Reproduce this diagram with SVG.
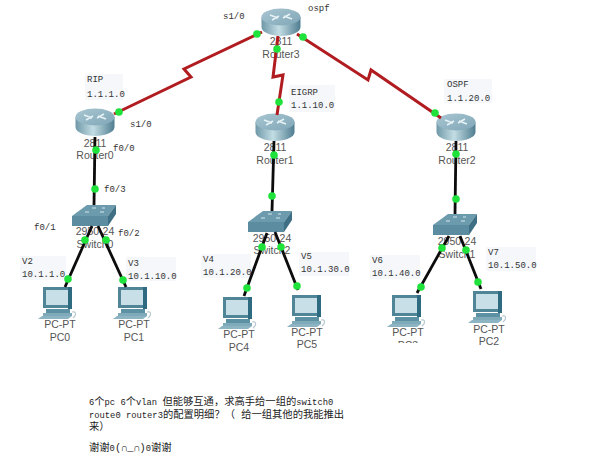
<svg xmlns="http://www.w3.org/2000/svg" width="600" height="468" viewBox="0 0 600 468">
<style>
.pt{font-family:"Liberation Sans",Arial,sans-serif;font-size:10.5px;fill:#555;text-anchor:middle}
.an{font-family:"Liberation Mono","Courier New",monospace;font-size:9px;fill:#333}
.box{fill:#f5f7fb}
.ser{fill:none;stroke:#b01c20;stroke-width:3}
.eth{fill:none;stroke:#0c0c0c;stroke-width:2.8}
.dot{fill:#1fe23a}
.cn{font-family:"Liberation Mono","Noto Sans CJK SC",monospace;font-size:10.3px;fill:#222}
.lat{font-size:8.8px}
</style>
<defs>
<linearGradient id="rb" x1="0" x2="1" y1="0" y2="0"><stop offset="0" stop-color="#6f98a8"/><stop offset=".45" stop-color="#c3dde4"/><stop offset="1" stop-color="#4f7d90"/></linearGradient>
<linearGradient id="rt" x1="0" x2="1" y1="0" y2="1"><stop offset="0" stop-color="#a9c6d2"/><stop offset="1" stop-color="#7fa6b6"/></linearGradient>
<g id="router">
<path d="M-19.500 -5V5A19.500 9 0 0 0 19.500 5V-5Z" fill="url(#rb)"/>
<ellipse cx="0" cy="-5" rx="19.500" ry="8.500" fill="url(#rt)"/>
<path d="M-11 -7L-3 -4M11 -3L3 -6M-9 -2L-2 -6M9 -8L2 -4" stroke="#e6f2f5" stroke-width="1.500" fill="none"/>
</g>
<g id="switch">
<path d="M0 11L15 0H44L36 11Z" fill="#6b9bad"/>
<path d="M0 11H36V21H0Z" fill="#5c8ca0"/>
<path d="M36 11L44 0V9L36 21Z" fill="#3f6f84"/>
<path d="M13 7h4M20 3h4M28 7h4M30 3h3" stroke="#d6e8ee" stroke-width="1.200"/>
</g>
<g id="pc">
<path d="M5 0H34V21H5Z" fill="#4f8597"/>
<path d="M8 3H30V18H8Z" fill="#c9dfe8"/>
<path d="M30 0L34 0V22L30 22Z" fill="#2f6b80"/>
<path d="M8 22H32V26H8Z" fill="#5b91a3"/>
<path d="M5 26H34V29H5Z" fill="#7eaab9"/>
<path d="M4 29H34L30 32H0Z" fill="#8db4c2"/>
<path d="M34 25Q39 24 37 29L35 31" fill="none" stroke="#b8c8ce" stroke-width="1.200"/>
</g>
<clipPath id="c3"><rect x="380" y="320" width="60" height="23"/></clipPath>
</defs>
<rect width="600" height="468" fill="#fff"/>

<g id="label-boxes">
<rect class="box" x="85" y="74" width="38" height="26"/>
<rect class="box" x="289" y="85" width="46" height="27"/>
<rect class="box" x="444" y="79" width="48" height="24"/>
<rect class="box" x="20" y="256" width="46" height="24"/>
<rect class="box" x="126" y="257" width="50" height="24"/>
<rect class="box" x="201" y="254" width="50" height="24"/>
<rect class="box" x="299" y="252" width="50" height="24"/>
<rect class="box" x="370" y="255" width="50" height="24"/>
<rect class="box" x="486" y="247" width="50" height="24"/>
</g>

<g id="router3"><use href="#router" x="281" y="22"/><text class="pt" x="281" y="45">2811</text><text class="pt" x="281" y="58">Router3</text></g>
<g id="router0"><use href="#router" x="95" y="122"/><text class="pt" x="95" y="147">2811</text><text class="pt" x="95" y="159">Router0</text></g>
<g id="router1"><use href="#router" x="275" y="127"/><text class="pt" x="275" y="151">2811</text><text class="pt" x="275" y="164">Router1</text></g>
<g id="router2"><use href="#router" x="456" y="127"/><text class="pt" x="457" y="151">2811</text><text class="pt" x="457" y="164">Router2</text></g>
<g id="switch0"><use href="#switch" x="72" y="205"/><text class="pt" x="95" y="235">2950-24</text><text class="pt" x="95" y="248">Switch0</text></g>
<g id="switch2"><use href="#switch" x="248" y="211"/><text class="pt" x="272" y="242">2950-24</text><text class="pt" x="272" y="254">Switch2</text></g>
<g id="switch1"><use href="#switch" x="433" y="214"/><text class="pt" x="457" y="245">2950-24</text><text class="pt" x="457" y="258">Switch1</text></g>
<g id="pc0"><use href="#pc" x="38" y="287"/><text class="pt" x="60" y="328">PC-PT</text><text class="pt" x="60" y="341">PC0</text></g>
<g id="pc1"><use href="#pc" x="113" y="287"/><text class="pt" x="134" y="328">PC-PT</text><text class="pt" x="134" y="341">PC1</text></g>
<g id="pc4"><use href="#pc" x="218" y="297"/><text class="pt" x="239" y="338">PC-PT</text><text class="pt" x="239" y="351">PC4</text></g>
<g id="pc5"><use href="#pc" x="287" y="295"/><text class="pt" x="307" y="336">PC-PT</text><text class="pt" x="307" y="348">PC5</text></g>
<g id="pc3"><use href="#pc" x="387" y="295"/><text class="pt" x="408" y="336">PC-PT</text><text class="pt" x="408" y="349" clip-path="url(#c3)">PC3</text></g>
<g id="pc2"><use href="#pc" x="468" y="291"/><text class="pt" x="489" y="333">PC-PT</text><text class="pt" x="489" y="345">PC2</text></g>

<g id="connectors">
<path class="ser" d="M262 32L184 69L191 77L114 114"/>
<path class="ser" d="M278 36L273 77L283 75L277 115"/>
<path class="ser" d="M297 34L368 80L371 70L441 118"/>
<path class="eth" d="M95 137L94 205"/>
<path class="eth" d="M274 141L272 211"/>
<path class="eth" d="M456 141L455 214"/>
<path class="eth" d="M92 226L65 287"/>
<path class="eth" d="M98 226L126 287"/>
<path class="eth" d="M267 233L244 296"/>
<path class="eth" d="M275 232L298 290"/>
<path class="eth" d="M449 236L417 293"/>
<path class="eth" d="M460 236L481 289"/>
<g class="dot">
<circle cx="257" cy="34" r="3.800"/><circle cx="277" cy="49" r="3.800"/><circle cx="303" cy="37" r="3.800"/>
<circle cx="119" cy="112" r="3.800"/><circle cx="279" cy="102" r="3.800"/><circle cx="435" cy="113" r="3.800"/>
<circle cx="96" cy="150" r="3.800"/><circle cx="95" cy="189" r="3.800"/>
<circle cx="274" cy="155" r="3.800"/><circle cx="272" cy="196" r="3.800"/>
<circle cx="456" cy="154" r="3.800"/><circle cx="456" cy="199" r="3.800"/>
<circle cx="85" cy="240" r="3.800"/><circle cx="68" cy="279" r="3.800"/>
<circle cx="106" cy="240" r="3.800"/><circle cx="123" cy="280" r="3.800"/>
<circle cx="262" cy="247" r="3.800"/><circle cx="247" cy="288" r="3.800"/>
<circle cx="281" cy="247" r="3.800"/><circle cx="297" cy="286" r="3.800"/>
<circle cx="442" cy="248" r="3.800"/><circle cx="421" cy="287" r="3.800"/>
<circle cx="466" cy="250" r="3.800"/><circle cx="478" cy="282" r="3.800"/>
</g>
</g>

<g id="annotations">
<text class="an" x="223" y="19">s1/0</text>
<text class="an" x="308" y="11">ospf</text>
<text class="an" x="87" y="82">RIP</text>
<text class="an" x="87" y="97">1.1.1.0</text>
<text class="an" x="130" y="127">s1/0</text>
<text class="an" x="113" y="151">f0/0</text>
<text class="an" x="104" y="192">f0/3</text>
<text class="an" x="291" y="95">EIGRP</text>
<text class="an" x="291" y="108">1.1.10.0</text>
<text class="an" x="447" y="87">OSPF</text>
<text class="an" x="447" y="101">1.1.20.0</text>
<text class="an" x="34" y="230">f0/1</text>
<text class="an" x="118" y="236">f0/2</text>
<text class="an" x="22" y="264">V2</text>
<text class="an" x="22" y="277">10.1.1.0</text>
<text class="an" x="128" y="266">V3</text>
<text class="an" x="128" y="279">10.1.10.0</text>
<text class="an" x="203" y="262">V4</text>
<text class="an" x="203" y="275">10.1.20.0</text>
<text class="an" x="301" y="259">V5</text>
<text class="an" x="301" y="272">10.1.30.0</text>
<text class="an" x="372" y="263">V6</text>
<text class="an" x="372" y="276">10.1.40.0</text>
<text class="an" x="488" y="255">V7</text>
<text class="an" x="488" y="268">10.1.50.0</text>
<text class="cn" x="89" y="405"><tspan class="lat">6</tspan>个<tspan class="lat">pc 6</tspan>个<tspan class="lat">vlan </tspan>但能够互通，求高手给一组的<tspan class="lat">switch0</tspan></text>
<text class="cn" x="89" y="418"><tspan class="lat">route0 router3</tspan>的配置明细？（ 给一组其他的我能推出</text>
<text class="cn" x="89" y="430">来）</text>
<text class="cn" x="89" y="451">谢谢<tspan class="lat">0</tspan>(∩_∩)<tspan class="lat">0</tspan>谢谢</text>
</g>
</svg>
